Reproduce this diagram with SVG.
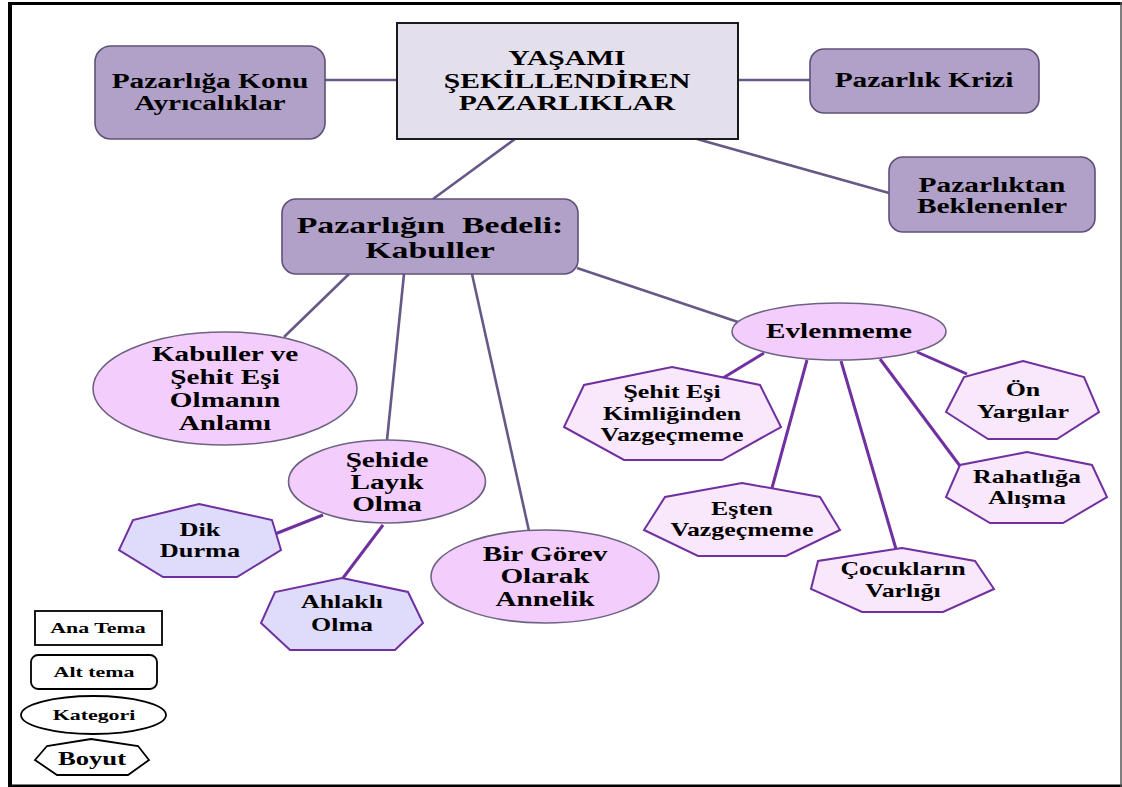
<svg xmlns="http://www.w3.org/2000/svg" width="1122" height="787" viewBox="0 0 1122 787">
  <style>
    text { font-family: "Liberation Serif", "Times New Roman", serif; font-weight: bold; fill: #000; text-anchor: middle; }
    .f23 { font-size: 23px; }
    .f20 { font-size: 20px; }
    .f18 { font-size: 18px; }
    .f15 { font-size: 15px; }
    .main { fill: #e4dfec; stroke: #1a1a1a; stroke-width: 2; }
    .alt { fill: #b1a0c7; stroke: #5f5078; stroke-width: 1.6; }
    .cat { fill: #f3cdfb; stroke: #6e6282; stroke-width: 1.6; }
    .dimA { fill: #dedcfa; stroke: #7030a0; stroke-width: 2; }
    .dimB { fill: #f9e7fc; stroke: #7030a0; stroke-width: 2; }
    .leg { fill: #fff; stroke: #000; stroke-width: 1.8; }
    .c1 { stroke: #675887; stroke-width: 2.6; fill: none; }
    .c2 { stroke: #7030a0; stroke-width: 3; fill: none; }
  </style>

  <rect x="0" y="0" width="1122" height="787" fill="#fff"/>

  <!-- page frame -->
  <g id="frame">
    <line x1="8" y1="3.5" x2="1122" y2="3.5" stroke="#000" stroke-width="3"/>
    <line x1="10" y1="2" x2="10" y2="787" stroke="#000" stroke-width="4"/>
    <line x1="8" y1="786" x2="1122" y2="786" stroke="#000" stroke-width="3"/>
    <line x1="1121" y1="2" x2="1121" y2="787" stroke="#555" stroke-width="1.5"/>
  </g>

  <!-- connectors -->
  <g id="connectors">
    <line class="c1" x1="325" y1="80" x2="397" y2="80"/>
    <line class="c1" x1="738" y1="80" x2="810" y2="80"/>
    <line class="c1" x1="697" y1="139" x2="889" y2="193"/>
    <line class="c1" x1="515" y1="139" x2="433" y2="199"/>
    <line class="c1" x1="349" y1="274" x2="284" y2="337"/>
    <line class="c1" x1="404" y1="274" x2="387" y2="440"/>
    <line class="c1" x1="472" y1="274" x2="529" y2="531"/>
    <line class="c1" x1="577" y1="268" x2="738" y2="322"/>
    <line class="c2" x1="323" y1="515" x2="275" y2="534"/>
    <line class="c2" x1="383" y1="525" x2="343" y2="578"/>
    <line class="c2" x1="764" y1="353" x2="723" y2="378"/>
    <line class="c2" x1="807" y1="360" x2="772" y2="488"/>
    <line class="c2" x1="841" y1="361" x2="896" y2="549"/>
    <line class="c2" x1="880" y1="359" x2="960" y2="466"/>
    <line class="c2" x1="917" y1="352" x2="967" y2="374"/>
  </g>

  <!-- main theme -->
  <g id="main-theme">
    <rect class="main" x="397" y="23" width="341" height="116"/>
    <text class="f20" transform="translate(567,0) scale(1.48,1)"><tspan x="0" y="65">YAŞAMI</tspan><tspan x="0" y="88">ŞEKİLLENDİREN</tspan><tspan x="0" y="110">PAZARLIKLAR</tspan></text>
  </g>

  <!-- sub themes -->
  <g id="pazarliga-konu">
    <rect class="alt" x="95" y="46" width="230" height="93" rx="16"/>
    <text class="f20" transform="translate(210,0) scale(1.47,1)"><tspan x="0" y="88">Pazarlığa Konu</tspan><tspan x="0" y="110">Ayrıcalıklar</tspan></text>
  </g>
  <g id="pazarlik-krizi">
    <rect class="alt" x="810" y="49" width="229" height="64" rx="14"/>
    <text class="f20" transform="translate(924,0) scale(1.47,1)"><tspan x="0" y="87">Pazarlık Krizi</tspan></text>
  </g>
  <g id="pazarliktan-beklenenler">
    <rect class="alt" x="889" y="157" width="206" height="75" rx="14"/>
    <text class="f20" transform="translate(992,0) scale(1.47,1)"><tspan x="0" y="192">Pazarlıktan</tspan><tspan x="0" y="213">Beklenenler</tspan></text>
  </g>
  <g id="pazarligin-bedeli">
    <rect class="alt" x="282" y="199" width="296" height="75" rx="14"/>
    <text class="f23" transform="translate(430,0) scale(1.47,1)" style="white-space: pre"><tspan x="0" y="233">Pazarlığın  Bedeli:</tspan><tspan x="0" y="258">Kabuller</tspan></text>
  </g>

  <!-- categories -->
  <g id="kabuller-ve-sehit-esi">
    <ellipse class="cat" cx="225" cy="388.5" rx="132" ry="56.5"/>
    <text class="f20" transform="translate(225,0) scale(1.46,1)"><tspan x="0" y="361">Kabuller ve</tspan><tspan x="0" y="384">Şehit Eşi</tspan><tspan x="0" y="407">Olmanın</tspan><tspan x="0" y="430">Anlamı</tspan></text>
  </g>
  <g id="sehide-layik-olma">
    <ellipse class="cat" cx="387" cy="481.5" rx="98.5" ry="41.5"/>
    <text class="f20" transform="translate(387,0) scale(1.46,1)"><tspan x="0" y="467">Şehide</tspan><tspan x="0" y="489">Layık</tspan><tspan x="0" y="511">Olma</tspan></text>
  </g>
  <g id="bir-gorev-olarak-annelik">
    <ellipse class="cat" cx="545" cy="576.5" rx="114" ry="46.5"/>
    <text class="f20" transform="translate(545,0) scale(1.46,1)"><tspan x="0" y="561">Bir Görev</tspan><tspan x="0" y="583">Olarak</tspan><tspan x="0" y="606">Annelik</tspan></text>
  </g>
  <g id="evlenmeme">
    <ellipse class="cat" cx="839" cy="331.5" rx="107" ry="28.5"/>
    <text class="f20" transform="translate(839,0) scale(1.46,1)"><tspan x="0" y="338">Evlenmeme</tspan></text>
  </g>

  <!-- dimensions -->
  <g id="dik-durma">
    <polygon class="dimA" points="199,504 272,520 281,550 237,577 163,577 119,550 133,520"/>
    <text class="f18" transform="translate(200,0) scale(1.46,1)"><tspan x="0" y="536">Dik</tspan><tspan x="0" y="557">Durma</tspan></text>
  </g>
  <g id="ahlakli-olma">
    <polygon class="dimA" points="342,578 408,592 423,623 395,650 290,650 261,623 275,592"/>
    <text class="f18" transform="translate(342,0) scale(1.44,1)"><tspan x="0" y="608">Ahlaklı</tspan><tspan x="0" y="631">Olma</tspan></text>
  </g>
  <g id="sehit-esi-kimliginden">
    <polygon class="dimB" points="672,367 760,385 781,427 722,460 624,460 564,427 584,385"/>
    <text class="f18" transform="translate(672,0) scale(1.44,1)"><tspan x="0" y="398">Şehit Eşi</tspan><tspan x="0" y="420">Kimliğinden</tspan><tspan x="0" y="441">Vazgeçmeme</tspan></text>
  </g>
  <g id="esten-vazgecmeme">
    <polygon class="dimB" points="742,483 820,497 840,530 786,556 698,556 644,530 665,497"/>
    <text class="f18" transform="translate(742,0) scale(1.44,1)"><tspan x="0" y="515">Eşten</tspan><tspan x="0" y="536">Vazgeçmeme</tspan></text>
  </g>
  <g id="cocuklarin-varligi">
    <polygon class="dimB" points="902,548 975,561 994,589 943,612 862,612 811,589 818,561"/>
    <text class="f18" transform="translate(903,0) scale(1.44,1)"><tspan x="0" y="575">Çocukların</tspan><tspan x="0" y="597">Varlığı</tspan></text>
  </g>
  <g id="on-yargilar">
    <polygon class="dimB" points="1023,361 1084,377 1099,412 1057,439 988,439 946,412 964,377"/>
    <text class="f18" transform="translate(1023,0) scale(1.44,1)"><tspan x="0" y="396">Ön</tspan><tspan x="0" y="418">Yargılar</tspan></text>
  </g>
  <g id="rahatliga-alisma">
    <polygon class="dimB" points="1027,452 1092,465 1107,497 1063,523 990,523 946,497 960,465"/>
    <text class="f18" transform="translate(1027,0) scale(1.44,1)"><tspan x="0" y="483">Rahatlığa</tspan><tspan x="0" y="504">Alışma</tspan></text>
  </g>

  <!-- legend -->
  <g id="legend">
    <rect class="leg" x="35" y="611" width="127" height="34"/>
    <text class="f15" transform="translate(98,0) scale(1.46,1)"><tspan x="0" y="633">Ana Tema</tspan></text>
    <rect class="leg" x="31" y="655" width="126" height="34" rx="7"/>
    <text class="f15" transform="translate(94,0) scale(1.46,1)"><tspan x="0" y="677">Alt tema</tspan></text>
    <ellipse class="leg" cx="93.5" cy="715" rx="72.5" ry="19"/>
    <text class="f15" transform="translate(94,0) scale(1.46,1)"><tspan x="0" y="720">Kategori</tspan></text>
    <polygon class="leg" points="91,739 138,746 149,760 128,775 57,775 35,760 47,746"/>
    <text class="f18" transform="translate(92,0) scale(1.48,1)"><tspan x="0" y="765">Boyut</tspan></text>
  </g>
</svg>
